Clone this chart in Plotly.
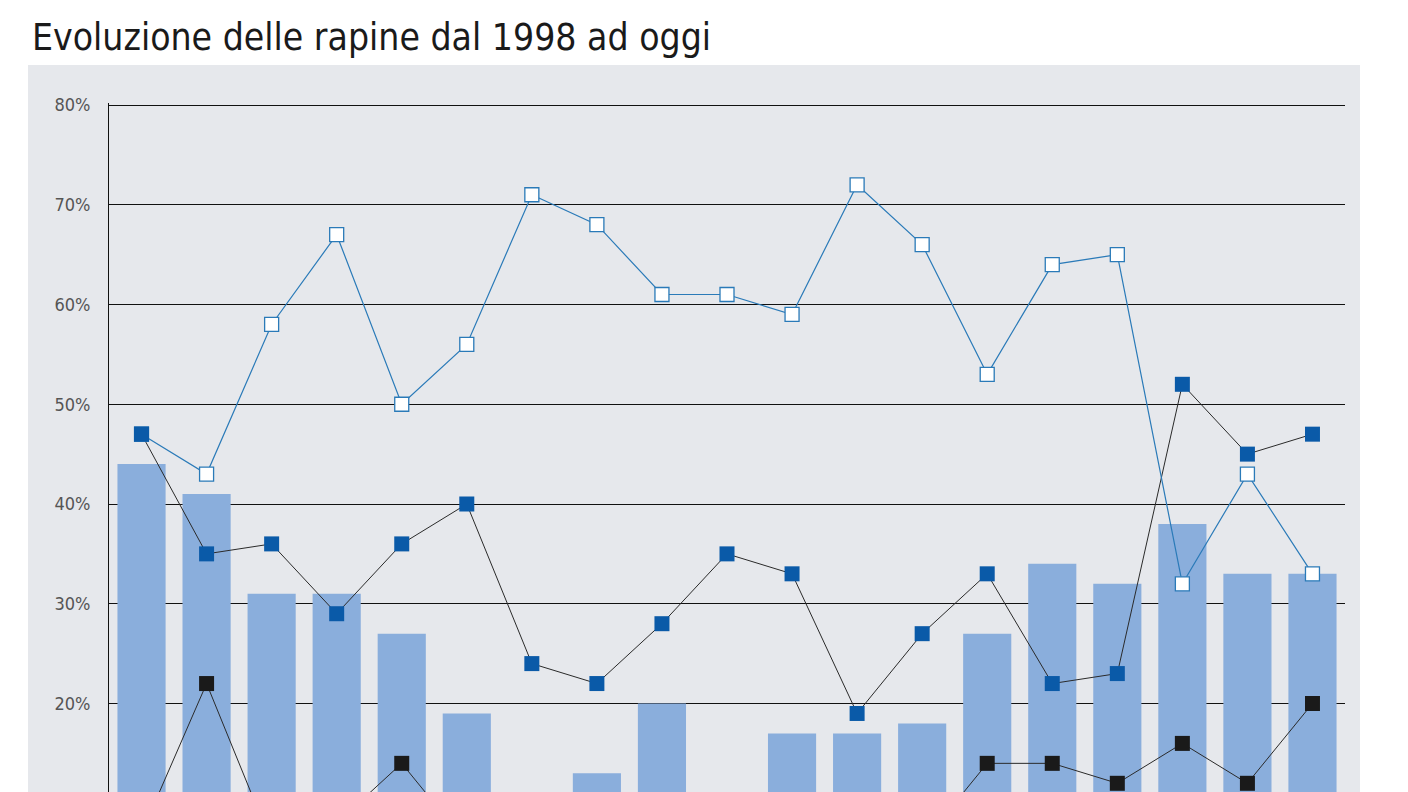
import plotly.graph_objects as go

anni = list(range(1998, 2017))
barre = [44, 41, 31, 31, 27, 19, 6, 13, 20, 8, 17, 17, 18, 27, 34, 32, 38, 33, 33]
serie_vuota = [47, 43, 58, 67, 50, 56, 71, 68, 61, 61, 59, 72, 66, 53, 64, 65, 32, 43, 33]
serie_blu = [47, 35, 36, 29, 36, 40, 24, 22, 28, 35, 33, 19, 27, 33, 22, 23, 52, 45, 47]
serie_nera = [7, 22, 6, 8, 14, 6, 5, 7, 10, 7, 5, 8, 6, 14, 14, 12, 16, 12, 20]
tick_vals = [0, 10, 20, 30, 40, 50, 60, 70, 80]
tick_text = [f"{v}%" for v in tick_vals]

# la pagina ha un margine di 8px: sposto tutto di 8px
W, H = 1408, 1000
L, R, T, B = 101, 71, 95, 105
pw, ph = W - L - R, H - T - B

def px_x(x):
    return (x - 8 - L) / pw

def px_y(y):
    return (H - B - (y - 8)) / ph

fig = go.Figure()
fig.add_trace(go.Bar(x=anni, y=barre, marker_color="#8aaedc", width=0.74,
                     marker_line_width=0))
fig.add_trace(go.Scatter(x=anni, y=serie_nera, mode="lines+markers",
                         line=dict(color="#2a2a2a", width=1),
                         marker=dict(symbol="square", size=15, color="#1a1a1a")))
fig.add_trace(go.Scatter(x=anni, y=serie_blu, mode="lines+markers",
                         line=dict(color="#2a2a2a", width=1),
                         marker=dict(symbol="square", size=15, color="#0a5aa8")))
fig.add_trace(go.Scatter(x=anni, y=serie_vuota, mode="lines+markers",
                         line=dict(color="#2a7ab8", width=1.2),
                         marker=dict(symbol="square", size=14, color="white",
                                     line=dict(color="#2a7ab8", width=1.3))))
fig.add_trace(go.Scatter(x=anni[:1], y=serie_blu[:1], mode="markers",
                         marker=dict(symbol="square", size=15, color="#0a5aa8")))

fig.add_shape(type="rect", xref="paper", yref="paper", layer="below",
              x0=px_x(28), x1=px_x(1360), y0=px_y(1000), y1=px_y(65),
              fillcolor="#e6e8ec", line_width=0)
fig.add_annotation(text="Evoluzione delle rapine dal 1998 ad oggi",
                   xref="paper", yref="paper", x=px_x(30), y=px_y(38),
                   xanchor="left", yanchor="middle", showarrow=False,
                   font=dict(family="DejaVu Sans Condensed", size=37, color="#1a1a1a"))

fig.update_layout(
    width=W, height=H, margin=dict(l=L, r=R, t=T, b=B),
    paper_bgcolor="white", plot_bgcolor="#e6e8ec",
    showlegend=False, bargap=0.26,
    xaxis=dict(range=[1997.5, 2016.5], showgrid=False, showticklabels=False,
               zeroline=False),
    yaxis=dict(range=[0, 80.2], tickvals=tick_vals, ticktext=tick_text,
               showgrid=True, gridcolor="#111111", gridwidth=1,
               showline=True, linecolor="#111111", linewidth=1,
               zeroline=False, ticks="", ticklabelstandoff=14,
               tickfont=dict(family="DejaVu Sans Condensed", size=18, color="#555555")),
)

fig.write_html("out.html")
